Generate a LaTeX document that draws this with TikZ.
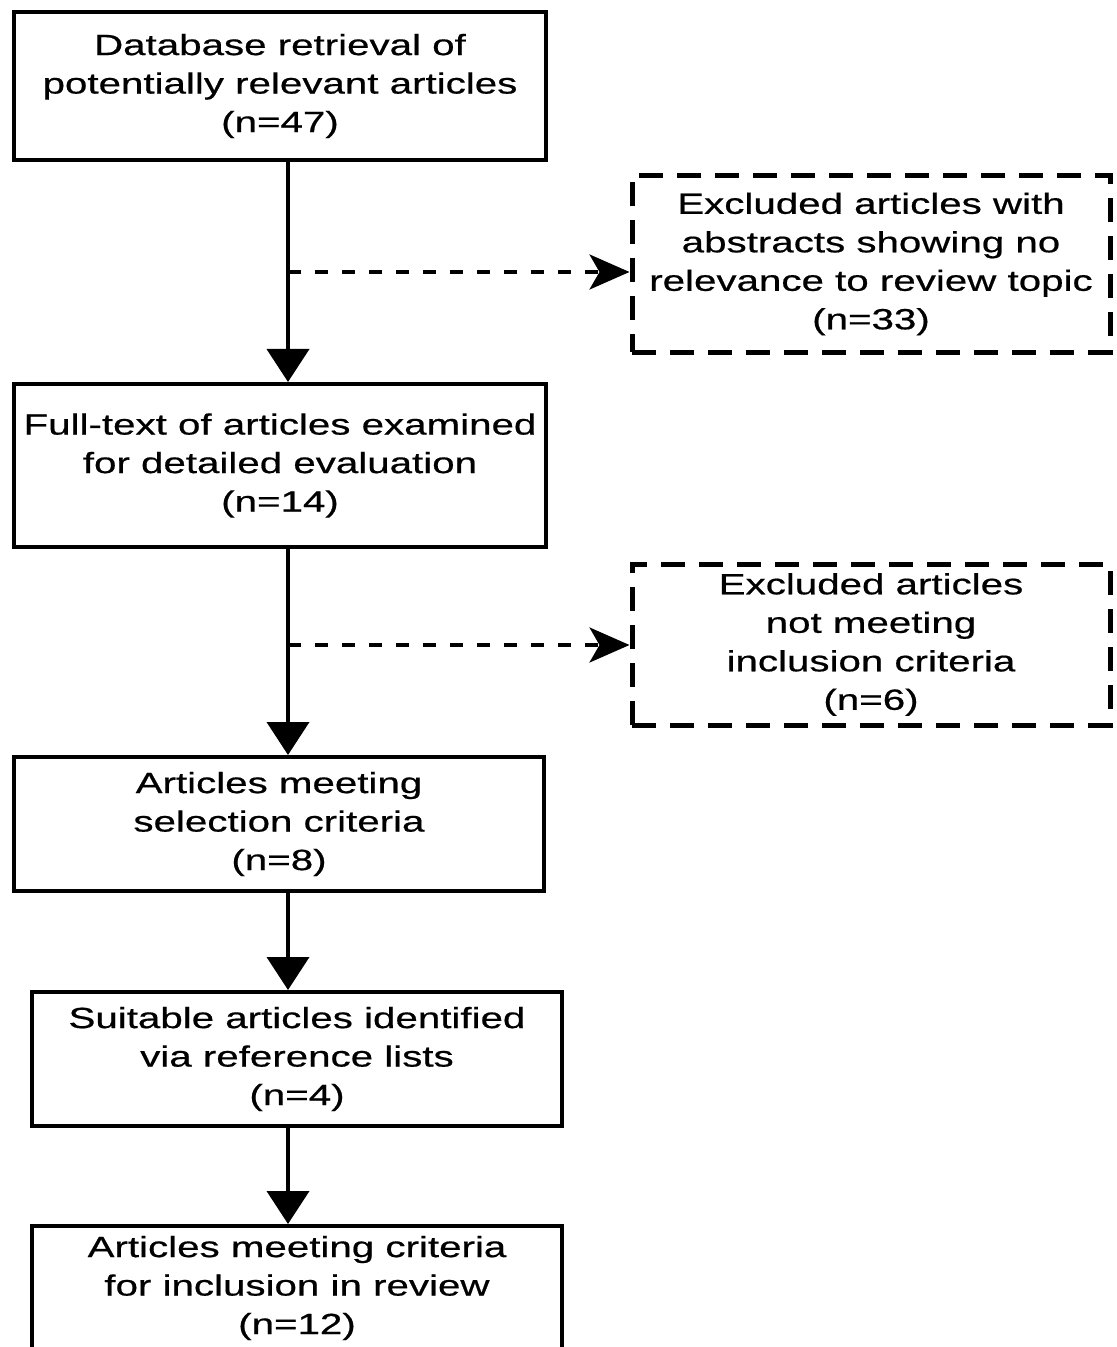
\documentclass[tikz,border=0pt]{standalone}
\usepackage{fontspec}
\setmainfont{Liberation Sans}[FakeStretch=1.38, FakeBold=0.6]
\usetikzlibrary{arrows.meta,calc,positioning}
\newcommand{\boxfont}{\fontsize{14.6pt}{19.25pt}\selectfont}

\begin{document}
\begin{tikzpicture}[x=0.5pt, y=-0.5pt, semithick,
    stagebox/.style={draw, line width=2pt, align=center, inner sep=0pt, font=\boxfont},
    dropbox/.style={draw, line width=2.5pt, dash pattern=on 12pt off 7pt, align=center,
                    inner sep=0pt, font=\boxfont, minimum width=239pt},
    flow/.style={line width=2pt, -{Triangle[length=16.5pt, width=21pt]}},
    drop/.style={line width=1.75pt, dash pattern=on 6.5pt off 7pt,
                 -{Stealth[length=20pt, width=17.5pt, inset=5pt]}}]
    \useasboundingbox (0,0) rectangle (1117,1347);

    \node[stagebox, minimum width=266pt, minimum height=74pt]   (retrieved) at (280,86)    {Database retrieval of\\potentially relevant articles\\(n=47)};
    \node[dropbox, minimum height=88.5pt]                       (offtopic)  at (871,264)   {Excluded articles with\\abstracts showing no\\relevance to review topic\\(n=33)};
    \node[stagebox, minimum width=266pt, minimum height=81.5pt] (fulltext)  at (280,465.5) {Full-text of articles examined\\for detailed evaluation\\(n=14)};
    \node[dropbox, minimum height=80.5pt]                       (unmet)     at (871,644.5) {Excluded articles\\not meeting\\inclusion criteria\\(n=6)};
    \node[stagebox, minimum width=265pt, minimum height=67pt]   (selected)  at (279,824)   {Articles meeting\\selection criteria\\(n=8)};
    \node[stagebox, minimum width=265pt, minimum height=67pt]   (reflists)  at (297,1059)  {Suitable articles identified\\via reference lists\\(n=4)};
    \node[stagebox, minimum width=265pt, minimum height=62pt]   (included)  at (297,1288)  {Articles meeting criteria\\for inclusion in review\\(n=12)};

    % spine and side exits
    \coordinate (split1) at (288,272);
    \coordinate (split2) at (288,645);

    \path[flow] (retrieved.south -| split1) edge (fulltext.north -| split1)
                (fulltext.south -| split1)  edge (selected.north -| split1)
                (selected.south -| split1)  edge (reflists.north -| split1)
                (reflists.south -| split1)  edge (included.north -| split1);
    \path[drop] (split1) edge (offtopic.west |- split1)
                (split2) edge (unmet.west |- split2);
\end{tikzpicture}
\end{document}
